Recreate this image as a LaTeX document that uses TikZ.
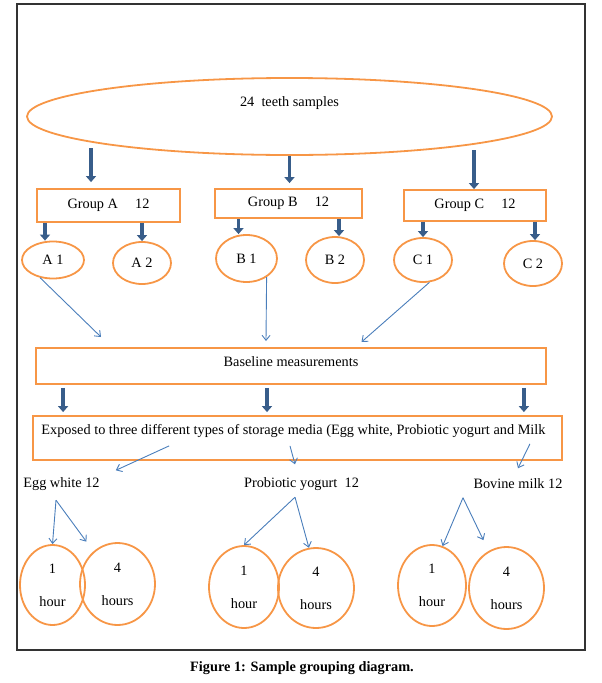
\documentclass[tikz,border=0pt]{standalone}
\usepackage{fontspec}
\setmainfont{Liberation Serif}
\usetikzlibrary{shapes.geometric,arrows.meta}

\definecolor{boxorange}{RGB}{247,150,70}
\definecolor{darkblue}{RGB}{56,93,138}
\definecolor{lightblue}{RGB}{74,126,187}

\begin{document}
\begin{tikzpicture}[x=1pt, y=-1pt, font=\fontsize{14.3}{16}\selectfont,
    box/.style = {draw=boxorange, line width=1.8pt, rectangle, inner sep=0pt},
    oval/.style = {draw=boxorange, line width=1.8pt, ellipse, inner sep=0pt, align=center},
    fat/.style = {darkblue, line width=3.8pt, -{Triangle[width=10pt,length=6pt]}},
    thin/.style = {lightblue, line width=0.9pt, -{Straight Barb[length=5pt,width=8pt]}},
    media/.style = {inner sep=1pt}]
      \useasboundingbox (0,0) rectangle (602,683);
      \draw[line width=1.5pt, black!80] (17,4) rectangle (585,650);

      % samples and groups
      \node[oval, minimum width=525pt, minimum height=77pt,
            label={[yshift=13pt]center:24\ \ teeth samples}] (samples) at (289.5,116.5) {};
      \node[box, minimum width=143pt, minimum height=33pt] (groupA) at (108.5,205.5) {Group A\hspace{1.2em}12};
      \node[box, minimum width=147pt, minimum height=29pt] (groupB) at (288.5,203.5) {Group B\hspace{1.2em}12};
      \node[box, minimum width=142pt, minimum height=31pt] (groupC) at (475,205.5) {Group C\hspace{1.2em}12};
      \coordinate (topA) at (91,148);
      \coordinate (topC) at (474,150);

      % subgroups
      \node[oval, minimum width=62pt, minimum height=37pt] (A1) at (53,260) {A 1};
      \node[oval, minimum width=58pt, minimum height=42pt] (A2) at (142,263) {A 2};
      \node[oval, minimum width=61pt, minimum height=47pt] (B1) at (246.5,258.5) {B 1};
      \node[oval, minimum width=58pt, minimum height=46pt] (B2) at (335,260) {B 2};
      \node[oval, minimum width=58pt, minimum height=44pt] (C1) at (423,260) {C 1};
      \node[oval, minimum width=58pt, minimum height=45pt] (C2) at (533,263.5) {C 2};
      \coordinate (inA) at (101,337);
      \coordinate (inB) at (266,341);
      \coordinate (inC) at (361.5,342);

      % measurements and media
      \node[box, minimum width=510pt, minimum height=36pt,
            label={[yshift=4pt]center:Baseline measurements}] (baseline) at (291,366) {};
      \node[box, minimum width=529pt, minimum height=44pt,
            label={[yshift=7pt,xshift=-4pt]center:Exposed to three different types of storage media (Egg white, Probiotic yogurt and Milk}] (exposed) at (297.5,438) {};
      \node[media] (egg) at (61.5,484) {Egg white 12};
      \node[media] (prob) at (301.5,484) {Probiotic yogurt\ \ 12};
      \node[media] (milk) at (518,484) {Bovine milk 12};
      \coordinate (eggFork) at ([xshift=-5.5pt,yshift=-8.5pt]egg.south);
      \coordinate (probFork) at ([xshift=-6.5pt,yshift=-5.5pt]prob.south);
      \coordinate (milkFork) at ([xshift=-55pt,yshift=-7.5pt]milk.south);

      % hours
      \node[oval, minimum width=65pt, minimum height=80pt] (eggOne) at (52.5,585) {1\\[17pt]hour};
      \node[oval, minimum width=75pt, minimum height=82pt] (eggFour) at (117.5,584) {4\\[17pt]hours};
      \node[oval, minimum width=70pt, minimum height=82pt] (probOne) at (244,587) {1\\[17pt]hour};
      \node[oval, minimum width=76pt, minimum height=80pt] (probFour) at (316,588) {4\\[17pt]hours};
      \node[oval, minimum width=68pt, minimum height=81pt] (milkOne) at (432,585.5) {1\\[17pt]hour};
      \node[oval, minimum width=75pt, minimum height=82pt] (milkFour) at (506.5,588) {4\\[17pt]hours};

      \node[font=\bfseries\fontsize{14.3}{16}\selectfont] (caption) at (302,668) {Figure 1: Sample grouping diagram.};

      \path[fat]
      (topA) edge[shorten >=6pt] (topA |- groupA.north)
      (samples.south) edge[shorten >=5pt] (samples.south |- groupB.north)
      (topC) edge (topC |- groupC.north)
      ([xshift=-8pt]A1.north |- groupA.south) edge ([xshift=-8pt]A1.north)
      (A2.north |- groupA.south) edge (A2.north)
      ([xshift=-8pt]B1.north |- groupB.south) edge ([xshift=-8pt]B1.north)
      ([xshift=4pt]B2.north |- groupB.south) edge ([xshift=4pt]B2.north)
      (C1.north |- groupC.south) edge (C1.north)
      ([xshift=2pt]C2.north |- groupC.south) edge ([xshift=2pt]C2.north)
      ([xshift=28pt,yshift=-3pt]baseline.south west) edge ([xshift=31pt,yshift=3pt]exposed.north west)
      ([xshift=-24pt,yshift=-3pt]baseline.south) edge ([xshift=-30.5pt,yshift=3pt]exposed.north)
      ([xshift=-23pt,yshift=-3pt]baseline.south east) edge ([xshift=-39pt,yshift=3pt]exposed.north east);

      \path[thin]
      (A1.234) edge (inA)
      (B1.317) edge (inB)
      (C1.286) edge (inC)
      ([xshift=137pt,yshift=15pt]exposed.south west) edge ([xshift=15pt,yshift=6pt]egg.north east)
      ([xshift=-7.5pt,yshift=15pt]exposed.south) edge ([xshift=-6.5pt,yshift=12pt]prob.north)
      ([xshift=-33pt,yshift=17pt]exposed.south east) edge ([yshift=9.5pt]milk.north)
      (eggFork) edge (eggOne.north)
      (eggFork) edge[shorten >=12pt] (eggFour)
      (probFork) edge (probOne.north)
      (probFork) edge (probFour.100)
      (milkFork) edge (milkOne.75)
      (milkFork) edge[shorten >=12pt] (milkFour);
    \end{tikzpicture}
\end{document}
